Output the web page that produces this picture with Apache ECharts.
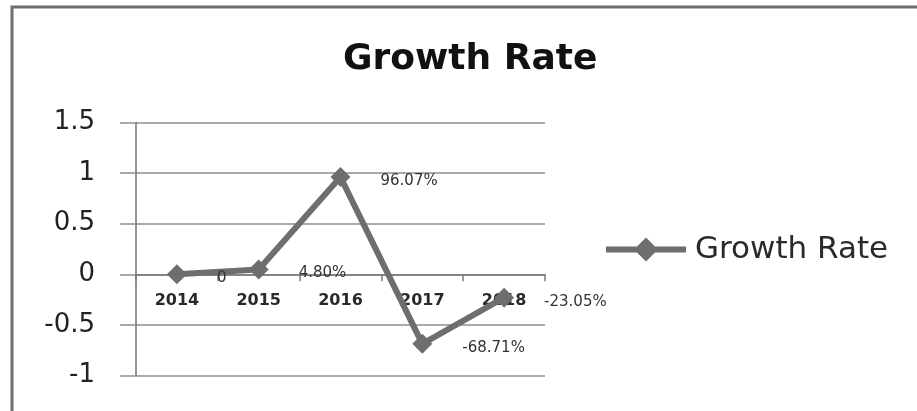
<!DOCTYPE html>
<html>
<head>
<meta charset="utf-8">
<script src="https://cdn.jsdelivr.net/npm/echarts@6/dist/echarts.min.js"></script>
<style>
  html, body { margin: 0; padding: 0; background: #fff; }
  #chart { width: 917px; height: 411px; }
</style>
</head>
<body>
<div id="chart"></div>
<script>
// Yearly growth rate (fraction, 1 = 100%)
const years = ['2014', '2015', '2016', '2017', '2018'];
const growthRate = [0, 0.048, 0.9607, -0.6871, -0.2305];
const valueLabels = ['0', '4.80%', '96.07%', '-68.71%', '-23.05%'];
const seriesName = 'Growth Rate';

const chart = echarts.init(document.getElementById('chart'), null, { renderer: 'canvas' });

const lineColor = '#6e6e6e';
const gridColor = '#8e8e8e';
const axisColor = '#7a7a7a';

chart.setOption({
  backgroundColor: '#ffffff',
  animation: false,
  title: {
    text: 'Growth Rate',
    left: 338,
    top: 37,
    textStyle: {
      fontFamily: 'DejaVu Sans',
      fontWeight: 'bold',
      fontSize: 36,
      color: '#111'
    }
  },
  legend: {
    left: 603,
    top: 234,
    padding: 0,
    itemWidth: 80,
    itemHeight: 30,
    itemGap: 10,
    data: [seriesName],
    lineStyle: { width: 6 },
    textStyle: {
      fontFamily: 'DejaVu Sans',
      fontSize: 31,
      color: '#2a2a2a',
      padding: [0, 0, 0, 4]
    }
  },
  grid: {
    left: 136,
    right: 372,
    top: 122.5,
    bottom: 35.5,
    containLabel: false
  },
  xAxis: {
    type: 'category',
    data: years,
    boundaryGap: true,
    position: 'bottom',
    offset: 0,
    axisLine: { show: true, onZero: false, lineStyle: { color: axisColor, width: 1.6 } },
    axisTick: { show: true, length: 7, alignWithLabel: false, lineStyle: { color: axisColor, width: 1.5 } },
    axisLabel: {
      margin: 19,
      fontFamily: 'DejaVu Sans',
      fontWeight: 'bold',
      fontSize: 16,
      color: '#2a2a2a'
    },
    splitLine: { show: false }
  },
  yAxis: {
    type: 'value',
    min: -1,
    max: 1.5,
    interval: 0.5,
    axisLine: { show: true, lineStyle: { color: axisColor, width: 1.6 } },
    axisTick: { show: true, length: 16, lineStyle: { color: gridColor, width: 1.5 } },
    axisLabel: {
      margin: 41,
      fontFamily: 'DejaVu Sans',
      fontSize: 26,
      color: '#222'
    },
    splitLine: { show: true, lineStyle: { color: gridColor, width: 1.5 } }
  },
  series: [{
    name: seriesName,
    type: 'line',
    data: growthRate,
    symbol: 'diamond',
    symbolSize: 20,
    lineStyle: { color: lineColor, width: 6 },
    itemStyle: { color: lineColor },
    label: {
      show: true,
      position: 'right',
      distance: 30,
      offset: [0, 4],
      fontFamily: 'DejaVu Sans',
      fontSize: 15,
      color: '#333',
      formatter: p => valueLabels[p.dataIndex]
    }
  }],
  graphic: [{
    type: 'rect',
    shape: { x: 12, y: 7, width: 920, height: 410 },
    style: { fill: 'none', stroke: '#6f6f6f', lineWidth: 3 },
    silent: true
  }]
});

// Move the category axis (line, ticks and labels) up to the y = 0 line.
const bottomPx = chart.convertToPixel({ yAxisIndex: 0 }, -1);
const zeroPx = chart.convertToPixel({ yAxisIndex: 0 }, 0);
chart.setOption({ xAxis: { offset: zeroPx - bottomPx } });
</script>
</body>
</html>
